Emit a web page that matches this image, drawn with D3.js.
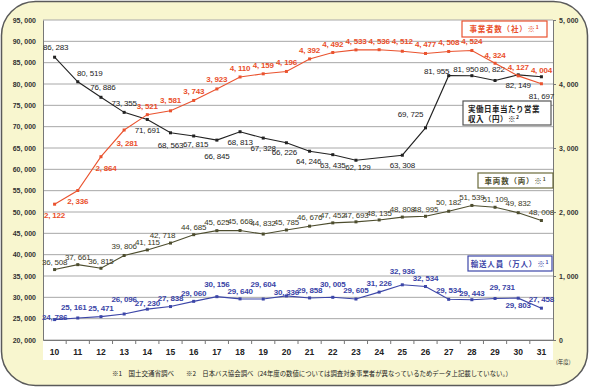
<!DOCTYPE html>
<html>
<head>
<meta charset="utf-8">
<script src="https://cdn.jsdelivr.net/npm/d3@7"></script>
<style>
  body { margin: 0; background: #fff; }
  svg text { font-family: "Liberation Sans", Arial, sans-serif; }
  .jp { font-family: "Noto Sans CJK JP", sans-serif; }
</style>
</head>
<body>
<svg id="chart" width="590" height="388"></svg>
<script>
// years (平成)
const years = [10, 11, 12, 13, 14, 15, 16, 17, 18, 19, 20, 21, 22, 23, 24, 25, 26, 27, 28, 29, 30, 31];

// 事業者数（社） - right axis
const operators = [2122, 2336, 2864, 3281, 3521, 3581, 3743, 3923, 4110, 4159, 4196, 4392, 4492, 4533, 4536, 4512, 4477, 4508, 4524, 4324, 4127, 4004];
// 実働日車当たり営業収入（円） - 24年度は記載なし
const income = [86283, 80519, 76886, 73355, 71691, 68563, 67815, 66845, 68813, 67328, 66226, 64246, 63435, 62129, null, 63308, 69725, 81955, 81950, 80822, 82149, 81697];
// 車両数（両）
const vehicles = [36508, 37661, 36815, 39806, 41115, 42718, 44685, 45625, 45668, 44832, 45785, 46676, 47452, 47693, 48135, 48808, 48995, 50182, 51539, 51109, 49832, 48008];
// 輸送人員（万人）
const passengers = [24786, 25161, 25471, 26096, 27230, 27838, 29060, 30156, 29640, 29604, 30336, 29858, 30005, 29605, 31226, 32936, 32534, 29534, 29443, 29731, 29803, 27458];

const leftTicks = [20000, 25000, 30000, 35000, 40000, 45000, 50000, 55000, 60000, 65000, 70000, 75000, 80000, 85000, 90000, 95000];
const rightTicks = [0, 1000, 2000, 3000, 4000, 5000];

// label offsets (dx, dy) per point
const operatorsDx = [0, 0, 5, 3, 0, 0, 0, 0, 0, 0, 0, 0, 0, 0, 0, 0, 0, 0, 0, 0, 0, 0];
const operatorsDy = [14, 14, 14, 16, -6, -8, -6, -7, -6, -6, -6, -6, -6, -6, -6, -7, -6, -6, -6, -5, -6, -11];
const incomeDx = [1, 12, 2, 0, 0, 0, 2, 0, 0, 0, -2, -1, 0, 2, 0, 0, -15, -12, -6, -3, 0, 0];
const incomeDy = [-7, -6, -7, -6, 14, 15, 11, 19, 13, 13, 12, 13, 13, 10, 0, 13, -11, -2, -4, -8, 13, 22];
const vehiclesDx = [0, 0, 0, 0, 0, -8, 0, 0, 0, 0, 0, 0, 0, 0, 0, 0, 0, 0, 0, 0, 0, 0];
const vehiclesDy = [-5, -5, -4, -6, -5, -5, -5, -6, -6, -8, -5, -6, -5, -4, -4, -5, -4, -6, -5, -5, -7, -5];
const passengersDx = [0, -4, 0, 0, 0, 0, 0, 0, 0, 0, 0, 0, 0, 0, 0, 0, 0, 0, 0, 7, 0, 0];
const passengersDy = [0, -8, -6, -12, -3, -6, -5, -10, -5, -12, -1, -5, -10, -6, -6, -11, -6, -6, -4, -8, 10, -6];

const svg = d3.select('#chart');
const plotL = 43, plotR = 553, plotT = 20, plotB = 340;

const x = d3.scaleBand().domain(years).range([plotL, plotR]);
const yLeft = d3.scaleLinear().domain([20000, 95000]).range([plotB, plotT]);
const yRight = d3.scaleLinear().domain([0, 5000]).range([plotB, plotT]);
const fmt = v => d3.format(',')(v).replace(',', ', ');

// panel
svg.append('rect')
  .attr('x', 1.5).attr('y', 1.5).attr('width', 586).attr('height', 384)
  .attr('rx', 34).attr('ry', 34)
  .attr('fill', '#f8f6cf').attr('stroke', '#5a5a5a').attr('stroke-width', 1.5);
svg.append('rect')
  .attr('x', plotL).attr('y', plotT).attr('width', plotR - plotL).attr('height', 340)
  .attr('fill', '#fff');

// grid
svg.append('g')
  .selectAll('line')
  .data(leftTicks)
  .join('line')
  .attr('x1', plotL).attr('x2', plotR)
  .attr('y1', d => yLeft(d)).attr('y2', d => yLeft(d))
  .attr('stroke', '#a8a8a8').attr('stroke-width', 1);

// left axis
const gl = svg.append('g')
  .attr('transform', `translate(${plotL},0)`)
  .call(d3.axisLeft(yLeft).tickValues(leftTicks).tickSize(0).tickPadding(7).tickFormat(fmt));
gl.select('.domain').attr('stroke', '#777');
gl.selectAll('text').attr('font-size', 7).attr('font-weight', 'bold').attr('fill', '#333');

// right axis
const gr = svg.append('g')
  .attr('transform', `translate(${plotR},0)`)
  .call(d3.axisRight(yRight).tickValues(rightTicks).tickSize(3).tickPadding(3).tickFormat(fmt));
gr.select('.domain').attr('stroke', '#777');
gr.selectAll('line').attr('stroke', '#777');
gr.selectAll('text').attr('font-size', 7).attr('font-weight', 'bold').attr('fill', '#333');

// bottom axis: ticks between categories
const gb = svg.append('g')
  .attr('transform', `translate(0,${plotB})`)
  .call(d3.axisBottom(x).tickSize(0).tickPadding(9));
gb.select('.domain').attr('stroke', '#777');
gb.selectAll('text').attr('font-size', 8.5).attr('font-weight', 'bold').attr('fill', '#222');
svg.append('g')
  .selectAll('line')
  .data(years.slice(1))
  .join('line')
  .attr('x1', d => x(d)).attr('x2', d => x(d))
  .attr('y1', plotB).attr('y2', plotB + 4)
  .attr('stroke', '#777');

function drawSeries(values, scale, color, labelColor, dxs, dys, weight) {
  const pts = years.map((yr, i) => ({ yr, v: values[i], dx: dxs[i], dy: dys[i] }))
    .filter(d => d.v != null);
  const line = d3.line()
    .x(d => x(d.yr) + x.bandwidth() / 2)
    .y(d => scale(d.v));
  svg.append('path')
    .datum(pts)
    .attr('d', line)
    .attr('fill', 'none')
    .attr('stroke', color)
    .attr('stroke-width', 1.1);
  svg.append('g')
    .selectAll('rect')
    .data(pts)
    .join('rect')
    .attr('x', d => x(d.yr) + x.bandwidth() / 2 - 1.5)
    .attr('y', d => scale(d.v) - 1.5)
    .attr('width', 3).attr('height', 3)
    .attr('fill', color);
  svg.append('g')
    .selectAll('text')
    .data(pts)
    .join('text')
    .attr('x', d => x(d.yr) + x.bandwidth() / 2 + d.dx)
    .attr('y', d => scale(d.v) + d.dy)
    .attr('text-anchor', 'middle')
    .attr('font-size', 8)
    .attr('letter-spacing', -0.2)
    .attr('font-weight', weight)
    .attr('fill', labelColor)
    .text(d => fmt(d.v));
}

drawSeries(vehicles, yLeft, '#4d4d2e', '#3a3a26', vehiclesDx, vehiclesDy, 'normal');
drawSeries(passengers, yLeft, '#3c46a8', '#3a44a6', passengersDx, passengersDy, 'bold');
drawSeries(income, yLeft, '#222', '#222', incomeDx, incomeDy, 'normal');
drawSeries(operators, yRight, '#ea532f', '#ea4f2b', operatorsDx, operatorsDy, 'bold');

// legend boxes
function legendBox(bx, by, bw, bh, stroke, color, lines, centered) {
  svg.append('rect')
    .attr('x', bx).attr('y', by).attr('width', bw).attr('height', bh)
    .attr('fill', '#fff').attr('stroke', stroke).attr('stroke-width', 1.2);
  lines.forEach((ln, i) => {
    const t = svg.append('text')
      .attr('class', 'jp')
      .attr('x', centered ? bx + bw / 2 : bx + 5)
      .attr('y', by + 10.5 + i * 10.5)
      .attr('text-anchor', centered ? 'middle' : 'start')
      .attr('font-size', 7.5)
      .attr('font-weight', 'bold')
      .attr('letter-spacing', centered ? 0.8 : 0.5)
      .attr('fill', color);
    t.append('tspan').text(ln[0]);
    if (ln[1]) t.append('tspan').attr('font-size', 5).attr('dy', -3).text(ln[1]);
  });
}
legendBox(462, 21, 85, 16, '#ea532f', '#ea4f2b', [['事業者数（社）※', '1']], true);
legendBox(463, 101, 88, 24, '#555', '#222', [['実働日車当たり営業'], ['収入（円）※', '2']], false);
legendBox(478, 173, 75, 15, '#6b6b3b', '#4d4d2e', [['車両数（両）※', '1']], true);
legendBox(468, 256, 84, 15, '#3c46a8', '#3a44a6', [['輸送人員（万人）※', '1']], true);

// notes
svg.append('text').attr('class', 'jp')
  .attr('x', 556).attr('y', 364).attr('font-size', 5.5).attr('fill', '#333')
  .text('(年度)');
svg.append('text').attr('class', 'jp')
  .attr('x', 112).attr('y', 376).attr('font-size', 6.5).attr('fill', '#222')
  .text('※1　国土交通省調べ');
svg.append('text').attr('class', 'jp')
  .attr('x', 186).attr('y', 376).attr('font-size', 6.5).attr('fill', '#222')
  .attr('textLength', 326).attr('lengthAdjust', 'spacingAndGlyphs')
  .text('※2　日本バス協会調べ（24年度の数値については調査対象事業者が異なっているためデータ上記載していない。）');
</script>
</body>
</html>
